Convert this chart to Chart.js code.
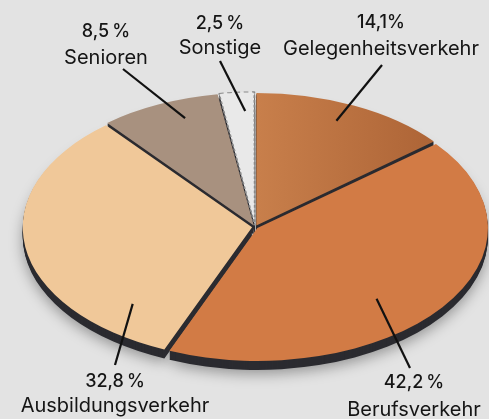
<!DOCTYPE html>
<html>
<head>
<meta charset="utf-8">
<script src="https://cdn.jsdelivr.net/npm/chart.js@4/dist/chart.umd.min.js"></script>
<style>
    html, body { margin: 0; padding: 0; background: #e3e3e3; }
    #ChartCanvas1 { display: block; }
</style>
</head>
<body>
<canvas id="ChartCanvas1" width="489" height="419"></canvas>
<script>
const categories  = ['Gelegenheitsverkehr', 'Berufsverkehr', 'Ausbildungsverkehr', 'Senioren', 'Sonstige'];
const shares      = [14.1, 42.2, 32.8, 8.5, 2.5];
const shareLabels = ['14,1%', '42,2\u2009%', '32,8\u2009%', '8,5\u2009%', '2,5\u2009%'];

Initialize();

function Initialize()
{
    // The pie is drawn round by Chart.js and then squashed into this ellipse
    const pieCenterX = 255;
    const pieCenterY = 227;
    const pieRadiusX = 229;
    const pieRadiusY = 132;
    const pieDepth   = 9;
    const sideColor  = '#2b2b30';

    // Label text position and where the leader line ends (angleAt / radiusAt = anchor inside the slice)
    const labelLayout =
    [
        { x: 381, numberY: 28,  nameY: 55,  lineEnd: [382, 65],  angleAt: 0.47, radiusAt: 0.88 },
        { x: 414, numberY: 388, nameY: 416, lineEnd: [410, 368], angleAt: 0.56, radiusAt: 0.76 },
        { x: 115, numberY: 387, nameY: 412, lineEnd: [115, 365], angleAt: 0.17, radiusAt: 0.79 },
        { x: 106, numberY: 37,  nameY: 64,  lineEnd: [123, 69],  angleAt: 0.63, radiusAt: 0.88 },
        { x: 220, numberY: 29,  nameY: 54,  lineEnd: [220, 61],  angleAt: 0.69, radiusAt: 0.88 }
    ];

    const ctx = document.getElementById('ChartCanvas1').getContext('2d');

    function Squash(chart)
    {
        const c = chart.getDatasetMeta(0).data[0];
        return { cx: c.x, cy: c.y, r: c.outerRadius, sx: pieRadiusX / c.outerRadius, sy: pieRadiusY / c.outerRadius };
    }

    const squashPlugin =
    {
        id: 'squash',
        beforeDatasetsDraw(chart)
        {
            const g    = chart.ctx;
            const arcs = chart.getDatasetMeta(0).data;
            const s    = Squash(chart);

            g.save();
            g.translate(pieCenterX, pieCenterY);
            g.scale(s.sx, s.sy);
            g.translate(-s.cx, -s.cy);

            // Dark side of the pie: stacked copies of every slice, pushed downwards
            for (let step = pieDepth; step >= 1; step--)
            {
                g.save();
                g.translate(0, step / s.sy);
                if (step === pieDepth)
                {
                    g.shadowColor   = 'rgba(0, 0, 0, 0.35)';
                    g.shadowBlur    = 14;
                    g.shadowOffsetY = 4;
                }
                arcs.forEach(arc =>
                {
                    const keep  = arc.options;
                    arc.options = Object.assign({}, keep, { backgroundColor: sideColor, borderColor: sideColor, borderWidth: 0 });
                    arc.draw(g);
                    arc.options = keep;
                });
                g.restore();
            }
        },
        afterDatasetsDraw(chart)
        {
            chart.ctx.restore();
        }
    };

    const labelPlugin =
    {
        id: 'sliceLabels',
        afterDraw(chart)
        {
            const g    = chart.ctx;
            const arcs = chart.getDatasetMeta(0).data;
            const s    = Squash(chart);

            g.save();
            arcs.forEach((arc, i) =>
            {
                const L  = labelLayout[i];
                const a  = arc.startAngle + L.angleAt * (arc.endAngle - arc.startAngle);
                const px = pieCenterX + Math.cos(a) * L.radiusAt * s.r * s.sx;
                const py = pieCenterY + Math.sin(a) * L.radiusAt * s.r * s.sy;

                g.strokeStyle = '#111111';
                g.lineWidth   = 2.2;
                g.beginPath();
                g.moveTo(px, py);
                g.lineTo(L.lineEnd[0], L.lineEnd[1]);
                g.stroke();

                g.fillStyle    = '#151515';
                g.textAlign    = 'center';
                g.textBaseline = 'alphabetic';
                g.font = '500 18px Inter';
                g.fillText(shareLabels[i], L.x, L.numberY);
                g.font = '400 20px Inter';
                g.fillText(categories[i], L.x, L.nameY);
            });
            g.restore();
        }
    };

    function SliceColor(context)
    {
        const area = context.chart.chartArea;
        if (context.dataIndex === 0 && area)
        {
            const cx = (area.left + area.right) / 2;
            const r  = Math.min(area.width, area.height) / 2;
            const gradient = context.chart.ctx.createLinearGradient(cx, 0, cx + r * 0.85, 0);
            gradient.addColorStop(0, '#c87f4b');
            gradient.addColorStop(1, '#aa6134');
            return gradient;
        }
        return ['#bd7141', '#d27b45', '#f0c899', '#a8917f', '#e9e9e9'][context.dataIndex];
    }

    const chart = new Chart(ctx,
    {
        type: 'pie',
        data:
        {
            labels: categories,
            datasets:
            [
                {
                    data: shares,
                    backgroundColor: SliceColor,
                    borderColor: '#8a8a8a',
                    borderWidth: [0, 0, 0, 0, 1.5],
                    borderDash: [4, 3],
                    offset: 10,
                    clip: false
                }
            ]
        },
        options:
        {
            responsive: false,
            animation: false,
            events: [],
            layout: { padding: 10 },
            plugins:
            {
                legend: { display: false },
                tooltip: { enabled: false }
            }
        },
        plugins: [squashPlugin, labelPlugin]
    });
}
</script>
</body>
</html>
